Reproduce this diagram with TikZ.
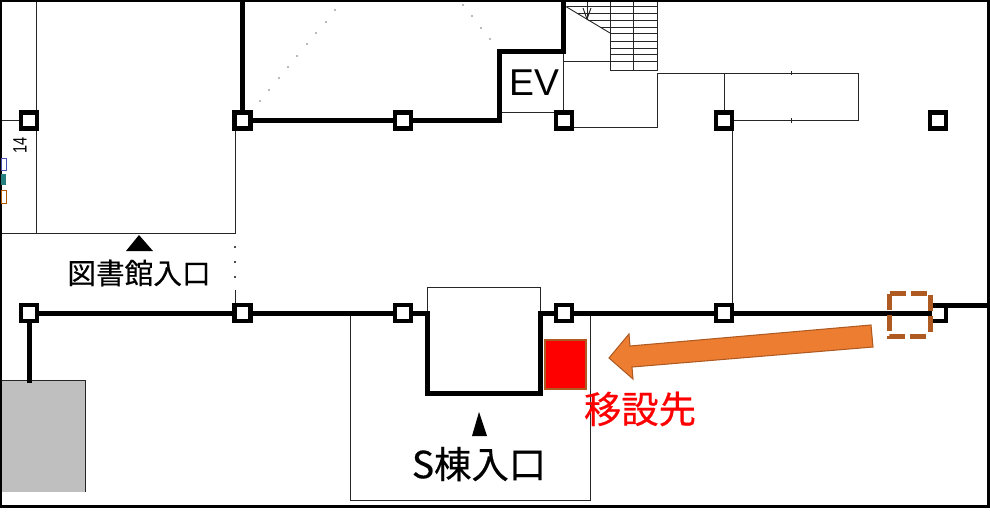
\documentclass[tikz,border=0pt]{standalone}
\usepackage{fontspec}
\setmainfont{Liberation Sans}
\newfontfamily\cjk[FakeBold=0.4]{Noto Sans CJK JP}
\usetikzlibrary{fit}
\definecolor{arroworange}{HTML}{ED7D31}
\definecolor{arrowbrown}{HTML}{AE5A21}
\tikzset{
	pillar/.style={draw=black, fill=white, line width=3.4pt, minimum size=12pt, inner sep=0pt},
	wall/.style={line width=3.75pt, line cap=rect},
	thin line/.style={draw=black!85, line width=0.7pt},
	old dash/.style={draw=arrowbrown, line width=3.6pt, dash pattern=on 12pt off 3.75pt}
}
\begin{document}
\begin{tikzpicture}[x=0.75pt,y=-0.75pt]
		\useasboundingbox (0,0) rectangle (990,512);
		% thin plan lines
		\draw[thin line] (36,0)--(36,233);
		\draw[thin line] (0,233)--(235,233)--(235,120);
		\draw[thin line] (0,120)--(29,120);
		\draw[thin line] (235,290)--(235,313);
		\foreach \y in {246,261,276}{
				\fill[black!70] (234.2,\y) rectangle ++(1.6,1.6);
		}
		\draw[thin line] (500,112)--(563,112)--(563,51);
		\draw[thin line] (563,61)--(610,61);
		\draw[thin line] (564,127)--(657,127)--(657,73)--(858,73)--(858,120.5)--(724,120.5);
		\draw[thin line] (724,73)--(724,120);
		\draw[thin line] (732,120)--(732,313);
		% stairs
		\draw[thin line] (565,6)--(610,33);
		\draw[thin line] (610,33)--(610,70)--(657,70)--(657,0);
		\draw[thin line] (610,0)--(610,33);
		\draw[thin line] (633,0)--(633,70);
		\foreach \x/\y in {
				567/6,
				577/13,
				588/20,
				600/27,
				610/33,
				610/41,
				610/48,
				610/54,
				610/61
		}{
				\draw[thin line] (\x,\y)--(657,\y);
		}
		\draw[thin line] (587,0)--(587,19);
		\draw[thin line] (583,8)--(587,19)--(591,8);
		\draw[thin line] (791,71)--(791,75);
		\draw[thin line] (791,118)--(791,123);
		% dotted diagonals
		\foreach \x/\y in {260/101,269/90,279/78,288/67,297/56,307/44,316/33,326/22,335/10}{
				\fill[black!55] (\x,\y) circle (0.9);
		}
		\foreach \x/\y in {463/5,472/16,481/28,490/39}{
				\fill[black!55] (\x,\y) circle (0.9);
		}
		% entrance recess
		\draw[thin line] (350,313)--(350,500)--(590,500)--(590,313);
		\draw[thin line] (427,313)--(427,287)--(540,287)--(540,313);
		% grey room
		\fill[black!25] (0,380) rectangle (85,492);
		\draw[thin line] (0,380)--(85,380)--(85,492);
		% pillars
		\foreach \m/\c in {
				0/29,
				1/242.5,
				2/403,
				3/564,
				4/724,
				5/938
		}{
		\node[pillar] (T\m) at (\c,120.5) {};
		\node[pillar] (B\m) at (\c,313) {};
		}
		% walls
		\draw[wall] (242.5,0)--(T1);
		\draw[wall] (T1)--(T2);
		\draw[wall] (T2)--(499,120.5)--(499,51)--(563,51)--(563,0);
		\draw[wall] (B0)--(B1);
		\draw[wall] (B1)--(B2);
		\draw[wall] (B2)--(427,313)--(427,393)--(540,393)--(540,313)--(B3);
		\draw[wall] (B3)--(B4);
		\draw[wall] (B4)--(929,313);
		\draw[wall] (933,305)--(990,305);
		\draw[wall] (B0)--(29,380);
		% outer frame
		\draw[line width=2.2pt] (1,1) rectangle (988.5,506.5);
		% moved item
		\node[draw=arrowbrown, fill=red, line width=0.8pt, fit={(545,340)(586,389)}, inner sep=0pt] (newplace) {};
		\coordinate (oldTL) at (889.5,293.5);
		\coordinate (oldTR) at (930.5,293.5);
		\coordinate (oldBR) at (930.5,336.5);
		\coordinate (oldBL) at (889.5,336.5);
		\draw[old dash] (oldTL)--(oldTR)--(oldBR);
		\draw[old dash] (oldTL)--(oldBL)--(oldBR);
		\draw[draw=arrowbrown, fill=arroworange, line width=0.8pt]
				(871,325)--(630,346)--(629,334)--(609,358)--(633,379)--(632,367)--(873,347)--cycle;
		% labels
		\node (EVlabel) at (534,83) {\fontsize{28pt}{28pt}\selectfont EV};
		\node[font=\cjk] (libentry) at (139,273) {\fontsize{21.5pt}{22pt}\selectfont 図書館入口};
		\node[font=\cjk] (sentry) at (479,464) {\fontsize{28pt}{29pt}\selectfont S棟入口};
		\node[font=\cjk, text=red] (newlabel) at (640,409) {\fontsize{28pt}{29pt}\selectfont 移設先};
		\node[rotate=90] (roomno) at (20,145) {\fontsize{14.5pt}{15pt}\selectfont\scalebox{0.75}[1]{14}};
		\fill (126,251)--(139,235)--(153,251)--cycle;
		\fill (472,436)--(479,412)--(487,436)--cycle;
		% cut off marks at the left edge
		\draw[draw=blue!40!gray, line width=0.7pt] (1,158) rectangle (6,170);
		\fill[fill=teal!70!gray] (1,174) rectangle (6,185);
		\draw[draw=orange!70!black, line width=0.7pt] (1,190) rectangle (6,203);
\end{tikzpicture}
\end{document}
